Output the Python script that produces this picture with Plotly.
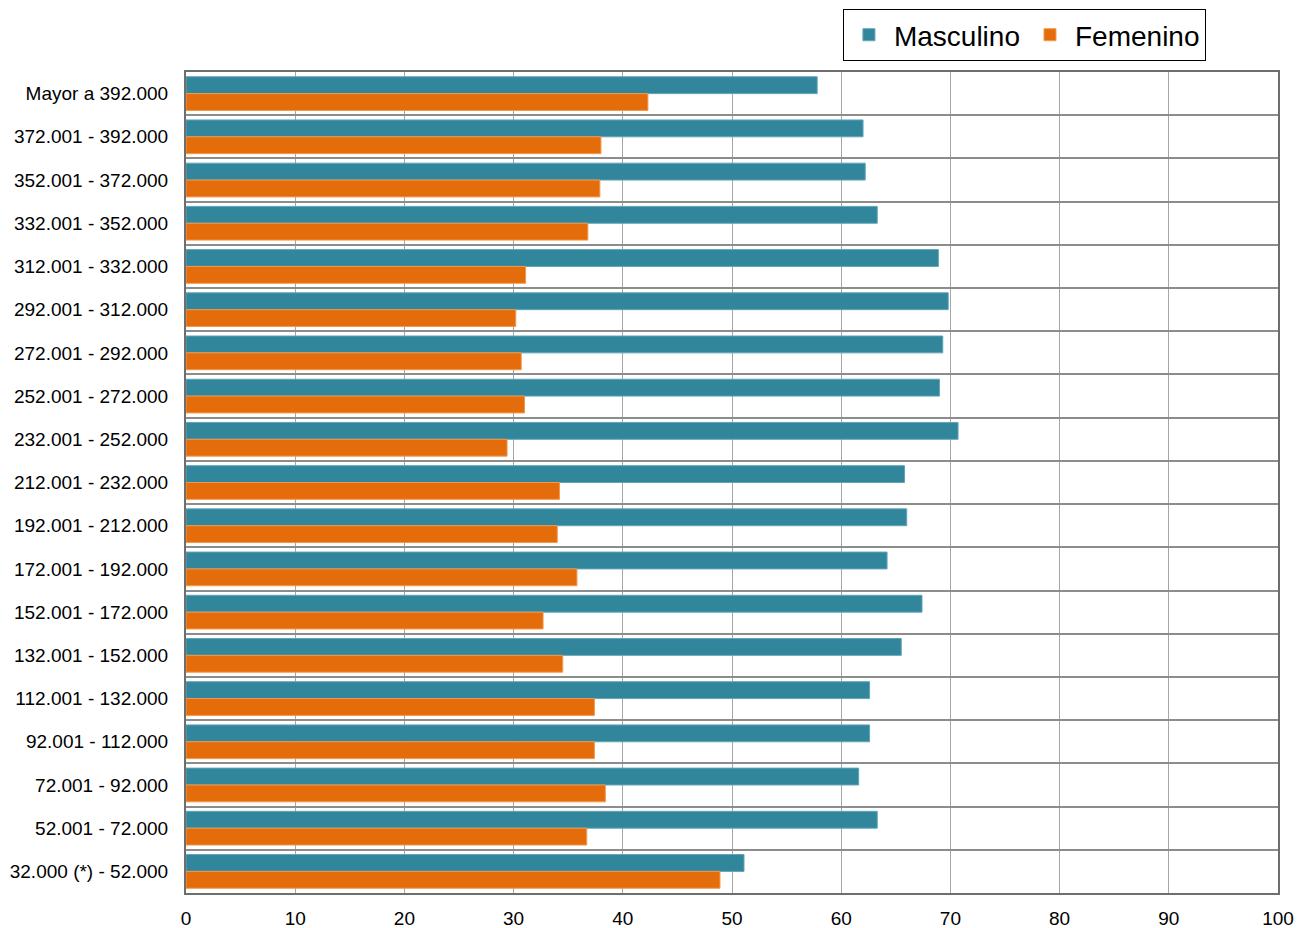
import plotly.graph_objects as go

categories = ["Mayor a 392.000", "372.001 - 392.000", "352.001 - 372.000", "332.001 - 352.000",
              "312.001 - 332.000", "292.001 - 312.000", "272.001 - 292.000", "252.001 - 272.000",
              "232.001 - 252.000", "212.001 - 232.000", "192.001 - 212.000", "172.001 - 192.000",
              "152.001 - 172.000", "132.001 - 152.000", "112.001 - 132.000", "92.001 - 112.000",
              "72.001 - 92.000", "52.001 - 72.000", "32.000 (*) - 52.000"]
masculino = [57.8, 62.0, 62.2, 63.3, 68.9, 69.8, 69.3, 69.0, 70.7, 65.8, 66.0, 64.2, 67.4, 65.5, 62.6, 62.6, 61.6, 63.3, 51.1]
femenino = [42.3, 38.0, 37.9, 36.8, 31.1, 30.2, 30.7, 31.0, 29.4, 34.2, 34.0, 35.8, 32.7, 34.5, 37.4, 37.4, 38.4, 36.7, 48.9]
x_ticks = [0, 10, 20, 30, 40, 50, 60, 70, 80, 90, 100]

fig = go.Figure()
fig.add_trace(go.Bar(y=categories, x=masculino, orientation="h", name="Masculino",
                     marker=dict(color="#31869b", line=dict(color="#5fa5b8", width=1))))
fig.add_trace(go.Bar(y=categories, x=femenino, orientation="h", name="Femenino",
                     marker=dict(color="#e46c0a", line=dict(color="#f09a50", width=1))))

fig.update_layout(
    width=1307, height=928,
    margin=dict(l=178, r=37, t=64, b=43, autoexpand=False),
    barmode="group", bargap=0.22, bargroupgap=0,
    plot_bgcolor="white", paper_bgcolor="white",
    font=dict(family="Arial, 'Liberation Sans', sans-serif", color="black", size=19),
    legend=dict(orientation="h", x=0.934, xanchor="right", y=1.0767, yanchor="top",
                font=dict(size=28), bordercolor="black", borderwidth=1,
                itemwidth=40, tracegroupgap=0),
    showlegend=True,
)
fig.update_xaxes(range=[0, 100], tickvals=x_ticks, showgrid=True, gridcolor="#a6a6a6", gridwidth=1,
                 showline=True, linecolor="#6e6e6e", linewidth=2, mirror=True,
                 ticks="", tickfont=dict(size=19), zeroline=False, ticklabelstandoff=7)
fig.update_yaxes(type="category", autorange="reversed", tickson="boundaries", showgrid=True,
                 gridcolor="#8c8c8c", gridwidth=2, showline=True, linecolor="#6e6e6e", linewidth=2,
                 mirror=True, ticks="", ticklen=0, tickfont=dict(size=19), ticklabelstandoff=12)

fig.write_html("out.html")
